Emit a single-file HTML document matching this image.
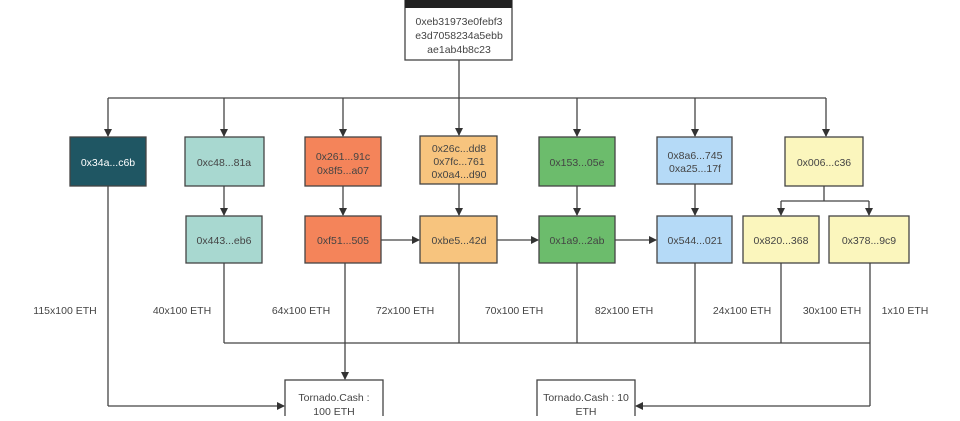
<!DOCTYPE html>
<html><head><style>
body{margin:0;background:#fff;}
svg text{font-family:"Liberation Sans","Noto Sans CJK SC",sans-serif;font-size:10.5px;fill:#444;text-anchor:middle;}
</style></head><body>
<svg width="960" height="416" viewBox="0 0 960 416" xmlns="http://www.w3.org/2000/svg">
<defs><marker id="a" markerWidth="8" markerHeight="8" refX="7" refY="4" orient="auto" markerUnits="userSpaceOnUse"><path d="M0,0 L8,4 L0,8 z" fill="#333"/></marker></defs>
<g stroke="#444" stroke-width="1.3" fill="none">
<!-- top box -->
<rect x="405" y="-2" width="107" height="62" fill="#fff"/>
<line x1="459" y1="60" x2="459" y2="98"/>
<line x1="108" y1="98" x2="826" y2="98"/>
<line x1="108" y1="98" x2="108" y2="136" marker-end="url(#a)"/>
<line x1="224" y1="98" x2="224" y2="136" marker-end="url(#a)"/>
<line x1="343" y1="98" x2="343" y2="136" marker-end="url(#a)"/>
<line x1="459" y1="98" x2="459" y2="135" marker-end="url(#a)"/>
<line x1="577" y1="98" x2="577" y2="136" marker-end="url(#a)"/>
<line x1="695" y1="98" x2="695" y2="136" marker-end="url(#a)"/>
<line x1="826" y1="98" x2="826" y2="136" marker-end="url(#a)"/>
<!-- row1 to row2 -->
<line x1="224" y1="186" x2="224" y2="215" marker-end="url(#a)"/>
<line x1="343" y1="186" x2="343" y2="215" marker-end="url(#a)"/>
<line x1="459" y1="184" x2="459" y2="215" marker-end="url(#a)"/>
<line x1="577" y1="186" x2="577" y2="215" marker-end="url(#a)"/>
<line x1="695" y1="184" x2="695" y2="215" marker-end="url(#a)"/>
<line x1="824" y1="186" x2="824" y2="201"/>
<line x1="781" y1="201" x2="869" y2="201"/>
<line x1="781" y1="201" x2="781" y2="215" marker-end="url(#a)"/>
<line x1="869" y1="201" x2="869" y2="215" marker-end="url(#a)"/>
<!-- horizontal -->
<line x1="381" y1="240" x2="419" y2="240" marker-end="url(#a)"/>
<line x1="497" y1="240" x2="538" y2="240" marker-end="url(#a)"/>
<line x1="615" y1="240" x2="656" y2="240" marker-end="url(#a)"/>
<!-- bottom -->
<line x1="108" y1="186" x2="108" y2="406"/>
<line x1="108" y1="406" x2="284" y2="406" marker-end="url(#a)"/>
<line x1="224" y1="263" x2="224" y2="343"/>
<line x1="459" y1="263" x2="459" y2="343"/>
<line x1="577" y1="263" x2="577" y2="343"/>
<line x1="695" y1="263" x2="695" y2="343"/>
<line x1="781" y1="263" x2="781" y2="343"/>
<line x1="224" y1="343" x2="870" y2="343"/>
<line x1="345" y1="263" x2="345" y2="379" marker-end="url(#a)"/>
<line x1="870" y1="263" x2="870" y2="406"/>
<line x1="870" y1="406" x2="636" y2="406" marker-end="url(#a)"/>
</g>
<rect x="405" y="0" width="107" height="8" fill="#222"/>
<g stroke="#444" stroke-width="1.3">
<rect x="70" y="137" width="76" height="49" fill="#1f5663"/>
<rect x="185" y="137" width="79" height="49" fill="#a8d8d0"/>
<rect x="305" y="137" width="76" height="49" fill="#f4845a"/>
<rect x="420" y="136" width="77" height="48" fill="#f7c47e"/>
<rect x="539" y="137" width="76" height="49" fill="#6cbc6c"/>
<rect x="657" y="137" width="75" height="47" fill="#b5daf7"/>
<rect x="785" y="137" width="78" height="49" fill="#fbf6bd"/>
<rect x="186" y="216" width="76" height="47" fill="#a8d8d0"/>
<rect x="305" y="216" width="76" height="47" fill="#f4845a"/>
<rect x="420" y="216" width="77" height="47" fill="#f7c47e"/>
<rect x="539" y="216" width="76" height="47" fill="#6cbc6c"/>
<rect x="657" y="216" width="75" height="47" fill="#b5daf7"/>
<rect x="743" y="216" width="76" height="47" fill="#fbf6bd"/>
<rect x="829" y="216" width="80" height="47" fill="#fbf6bd"/>
<rect x="285" y="380" width="98" height="40" fill="#fff"/>
<rect x="537" y="380" width="98" height="40" fill="#fff"/>
</g>
<text x="459" y="25">0xeb31973e0febf3</text>
<text x="459" y="39">e3d7058234a5ebb</text>
<text x="459" y="53">ae1ab4b8c23</text>
<text x="108" y="166" style="fill:#fff">0x34a...c6b</text>
<text x="224" y="166">0xc48...81a</text>
<text x="343" y="160">0x261...91c</text>
<text x="343" y="174">0x8f5...a07</text>
<text x="459" y="152">0x26c...dd8</text>
<text x="459" y="165">0x7fc...761</text>
<text x="459" y="178">0x0a4...d90</text>
<text x="577" y="166">0x153...05e</text>
<text x="695" y="159">0x8a6...745</text>
<text x="695" y="172">0xa25...17f</text>
<text x="824" y="166">0x006...c36</text>
<text x="224" y="244">0x443...eb6</text>
<text x="343" y="244">0xf51...505</text>
<text x="459" y="244">0xbe5...42d</text>
<text x="577" y="244">0x1a9...2ab</text>
<text x="695" y="244">0x544...021</text>
<text x="781" y="244">0x820...368</text>
<text x="869" y="244">0x378...9c9</text>
<text x="65" y="314">115x100 ETH</text>
<text x="182" y="314">40x100 ETH</text>
<text x="301" y="314">64x100 ETH</text>
<text x="405" y="314">72x100 ETH</text>
<text x="514" y="314">70x100 ETH</text>
<text x="624" y="314">82x100 ETH</text>
<text x="742" y="314">24x100 ETH</text>
<text x="832" y="314">30x100 ETH</text>
<text x="905" y="314">1x10 ETH</text>
<text x="334" y="401">Tornado.Cash :</text>
<text x="334" y="415">100 ETH</text>
<text x="586" y="401">Tornado.Cash : 10</text>
<text x="586" y="415">ETH</text>
</svg>
</body></html>
